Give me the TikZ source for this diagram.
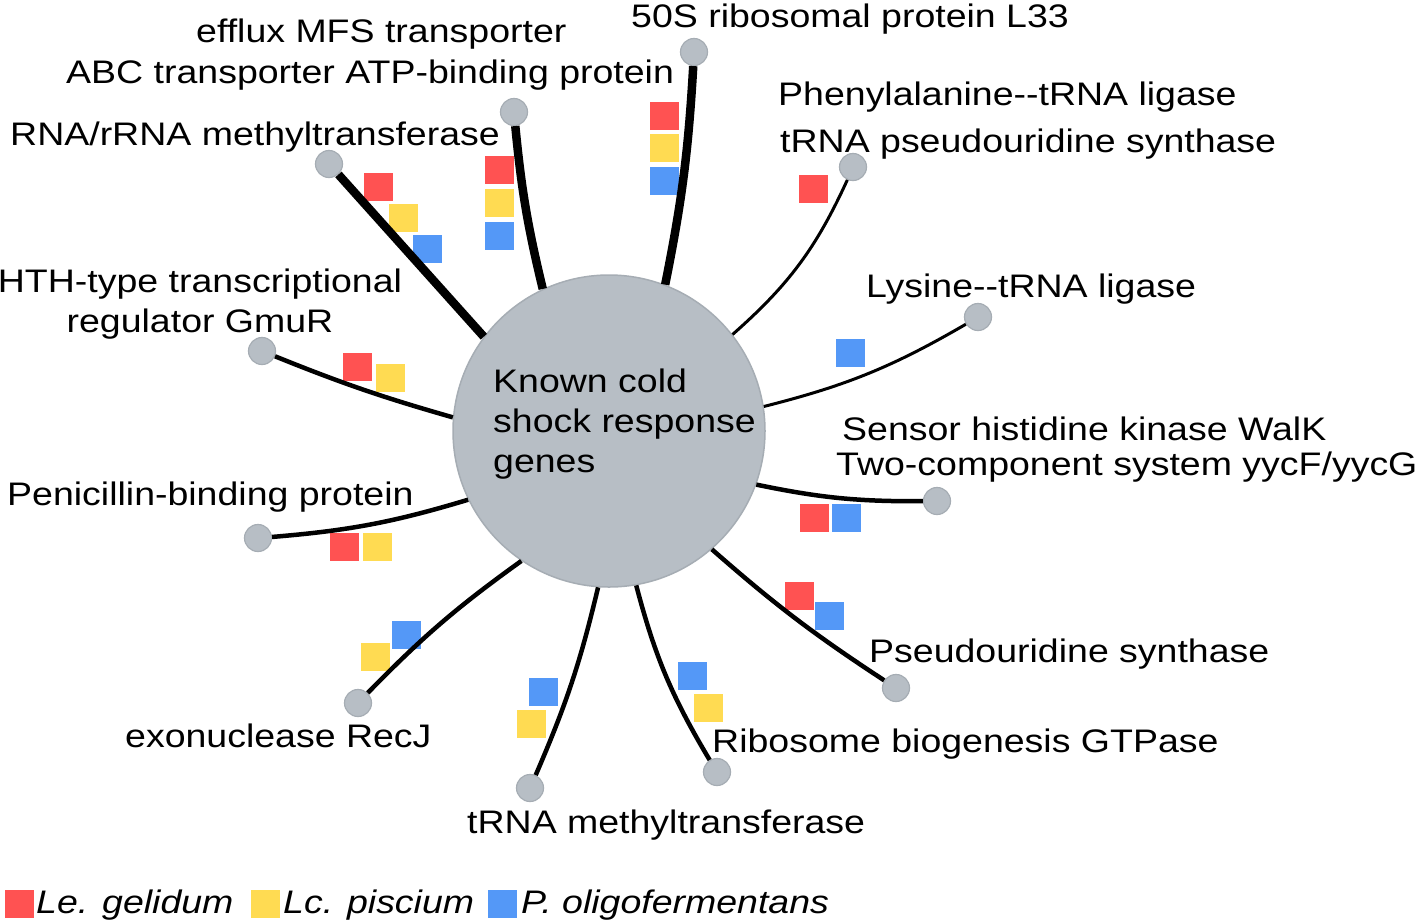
\documentclass[tikz,border=0pt]{standalone}
\usepackage{fontspec}
\setmainfont[FakeStretch=1.15]{Liberation Sans}
\usepackage{tikz}

\definecolor{lered}{HTML}{FF5252}
\definecolor{lcyel}{HTML}{FFDB52}
\definecolor{poblu}{HTML}{5498F7}
\definecolor{hubgrey}{HTML}{B7BEC5}
\definecolor{hubedge}{HTML}{A6ADB4}

\begin{document}
\begin{tikzpicture}[x=1pt,y=-1pt,
  every node/.style={font=\fontsize{32.6}{40}\selectfont},
  gene/.style={circle,fill=hubgrey,draw=hubedge,line width=1.2pt,minimum size=27pt,inner sep=0pt},
  lbl/.style={inner sep=0pt,anchor=base west},
  lgd/.style={lbl,font=\fontsize{32.6}{40}\selectfont\itshape},
  sq/.style={minimum width=30pt,minimum height=29pt,inner sep=0pt,draw=white,line width=0.8pt},
  le/.style={sq,fill=lered},
  lc/.style={sq,fill=lcyel},
  po/.style={sq,fill=poblu},
  heavy/.style={line width=8.5pt},
  mid/.style={line width=4.5pt},
  lite/.style={line width=3pt}]
\useasboundingbox[fill=white] (0,0) rectangle (1418,922);
\node (hub) [circle,fill=hubgrey,draw=hubedge,line width=1.5pt,minimum size=312pt,inner sep=0pt] at (609,431) {};
\node (hubtxt) [lbl,align=left] at (493,472) {Known cold\\shock response\\genes};
\node (rpm) [gene] at (694,52) {};
\node (abc) [gene] at (514,112) {};
\node (rlm) [gene] at (329,164) {};
\node (phe) [gene] at (853,167) {};
\node (lys) [gene] at (978,317) {};
\node (hth) [gene] at (262,351) {};
\node (walk) [gene] at (937,501) {};
\node (pbp) [gene] at (258,538) {};
\node (psd) [gene] at (896,688) {};
\node (recj) [gene] at (358,703) {};
\node (gtp) [gene] at (717,772) {};
\node (trm) [gene] at (530,788) {};
\node (rpmt) [lbl] at (631,27) {50S ribosomal protein L33};
\node (mfst) [lbl] at (196,42) {efflux MFS transporter};
\node (abct) [lbl] at (66,83) {ABC transporter ATP-binding protein};
\node (rlmt) [lbl] at (10,145) {RNA/rRNA methyltransferase};
\node (phet) [lbl] at (778,105) {Phenylalanine-{}-tRNA ligase};
\node (trut) [lbl] at (780,152) {tRNA pseudouridine synthase};
\node (lyst) [lbl] at (866,297) {Lysine-{}-tRNA ligase};
\node (htht) [inner sep=0pt,anchor=base,align=center] at (200,332) {HTH-type transcriptional\\regulator GmuR};
\node (walkt) [lbl] at (842,440) {Sensor histidine kinase WalK};
\node (yyct) [lbl] at (836,475) {Two-component system yycF/yycG};
\node (pbpt) [lbl] at (7,505) {Penicillin-binding protein};
\node (psdt) [lbl] at (869,662) {Pseudouridine synthase};
\node (recjt) [lbl] at (125,747) {exonuclease RecJ};
\node (gtpt) [lbl] at (712,752) {Ribosome biogenesis GTPase};
\node (trmt) [lbl] at (467,833) {tRNA methyltransferase};
\node (rlm1) [le] at (378,187) {};
\node (rlm2) [lc] at (403,218) {};
\node (rlm3) [po] at (427,249) {};
\node (abc1) [le] at (499,170) {};
\node (abc2) [lc] at (499,203) {};
\node (abc3) [po] at (499,236) {};
\node (rpm1) [le] at (664,116) {};
\node (rpm2) [lc] at (664,148) {};
\node (rpm3) [po] at (664,181) {};
\node (phe1) [le] at (813,189) {};
\node (lys1) [po] at (850,353) {};
\node (hth1) [le] at (357,367) {};
\node (hth2) [lc] at (390,378) {};
\node (walk1) [le] at (814,518) {};
\node (walk2) [po] at (846,518) {};
\node (pbp1) [le] at (344,547) {};
\node (pbp2) [lc] at (377,547) {};
\node (psd1) [le] at (799,596) {};
\node (psd2) [po] at (829,616) {};
\node (recj1) [lc] at (375,657) {};
\node (recj2) [po] at (406,635) {};
\node (trm1) [lc] at (531,724) {};
\node (trm2) [po] at (543,692) {};
\node (gtp1) [po] at (692,676) {};
\node (gtp2) [lc] at (708,708) {};
\node (key1) [le] at (19,904) {};
\node (key1t) [lgd] at (36,913) {Le. gelidum};
\node (key2) [lc] at (265,904) {};
\node (key2t) [lgd] at (283,913) {Lc. piscium};
\node (key3) [po] at (502,904) {};
\node (key3t) [lgd] at (521,913) {P. oligofermentans};
\draw[heavy] (hub.69.7) to[bend right=4] (rpm);
\draw[heavy] (hub.115) to[bend left=4] (abc);
\draw[heavy] (hub.143.5) -- (rlm);
\draw[lite] (hub.38.9) to[bend right=12] (phe);
\draw[lite] (hub.9.8) to[bend right=8] (lys);
\draw[mid] (hub.175.9) to[bend left=3] (hth);
\draw[mid] (hub.-20) to[bend right=6] (walk);
\draw[mid] (hub.-154.9) to[bend left=6] (pbp);
\draw[mid] (hub.-49.5) to[bend right=4] (psd);
\draw[mid] (hub.-124.2) to[bend right=5] (recj);
\draw[mid] (hub.-94) to[bend left=5] (trm);
\draw[mid] (hub.-80.6) to[bend right=8] (gtp);
\end{tikzpicture}
\end{document}
